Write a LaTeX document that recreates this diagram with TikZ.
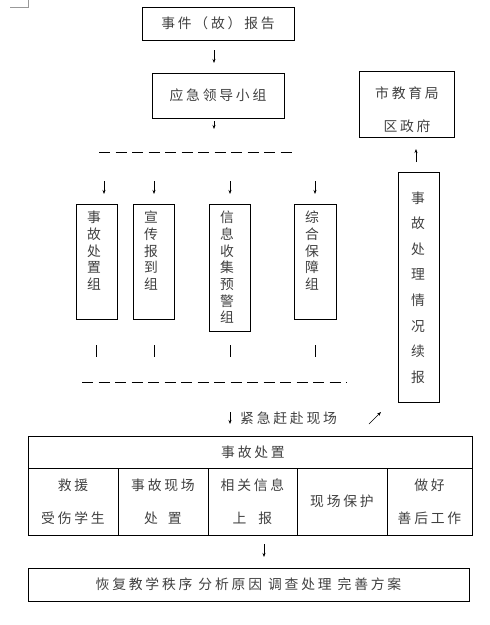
\documentclass[tikz,border=0pt]{standalone}
\usepackage{fontspec}
\setmainfont{Noto Sans CJK SC}
\usetikzlibrary{arrows.meta}
\newlength\chsp \setlength\chsp{2.8pt}
\makeatletter
\newcommand\sptext[1]{\@tfor\tmpch:=#1\do{\tmpch\hspace{\chsp}}\unskip}
\makeatother
\begin{document}
\begin{tikzpicture}[x=1pt,y=-1pt,
  box/.style={draw, line width=0.8pt, inner sep=0pt},
  txt/.style={font=\fontsize{13.8}{16}\selectfont, text=black!75},
  arr/.style={-{Stealth[length=4pt,width=3pt]}, line width=0.6pt},
  dashline/.style={line width=0.8pt, dash pattern=on 11pt off 5.5pt},
  tick/.style={line width=0.7pt},
  vtext/.style={inner sep=0pt, align=center, text=black!75, font=\fontsize{13.8}{16.7}\selectfont},
  cell/.style={draw, line width=0.8pt, inner sep=0pt, align=center, text=black!75, font=\fontsize{13.8}{33}\selectfont}]
\useasboundingbox (0,0) rectangle (490,625);
% corner mark
\draw[black!40, line width=0.5pt] (10,7) -- (28,7) -- (28,0);
% top boxes
\node[box, txt, minimum width=152pt, minimum height=33pt] (report) at (218,23.5) {\sptext{事件（故）报告}};
\node[box, txt, minimum width=132pt, minimum height=45pt] (lead) at (218,95.5) {\sptext{应急领导小组}};
\node[box, minimum width=95pt, minimum height=66pt] (gov) at (406.5,104) {};
\node[txt, inner sep=0pt] (govA) at (407,93) {\sptext{市教育局}};
\node[txt, inner sep=0pt] (govB) at (407,126) {\sptext{区政府}};
% arrows top
\coordinate (a1s) at (214,50); \coordinate (a1e) at (214,63);
\draw[arr, line width=1pt] (a1s) -- (a1e);
\coordinate (a2s) at (214,121); \coordinate (a2e) at (214,129);
\draw[arr] (a2s) -- (a2e);
\coordinate (d1l) at (99,152); \coordinate (d1r) at (296,152);
\draw[dashline] (d1l) -- (d1r);
\coordinate (g1s) at (416,162); \coordinate (g1e) at (416,149);
\draw[arr] (g1s) -- (g1e);
% group arrows
\foreach \x/\n in {104/1,154/2,230/3,315/4}{
  \coordinate (ga\n s) at (\x,181); \coordinate (ga\n e) at (\x,194);
  \draw[arr] (ga\n s) -- (ga\n e);
}
% group boxes
\node[box, minimum width=41pt, minimum height=115pt] (g1) at (96.5,261.5) {};
\node[box, minimum width=41pt, minimum height=115pt] (g2) at (153.5,261.5) {};
\node[box, minimum width=41pt, minimum height=127pt] (g3) at (229.5,267.5) {};
\node[box, minimum width=42pt, minimum height=115pt] (g4) at (315,261.5) {};
\node[vtext, anchor=north] (t1) at (94,211) {事\\故\\处\\置\\组};
\node[vtext, anchor=north] (t2) at (151,211) {宣\\传\\报\\到\\组};
\node[vtext, anchor=north] (t3) at (227,211) {信\\息\\收\\集\\预\\警\\组};
\node[vtext, anchor=north] (t4) at (312,211) {综\\合\\保\\障\\组};
% ticks
\foreach \x/\n in {96/1,154/2,230/3,315/4}{
  \coordinate (tk\n s) at (\x,345); \coordinate (tk\n e) at (\x,357);
  \draw[tick] (tk\n s) -- (tk\n e);
}
\coordinate (d2l) at (82,382); \coordinate (d2r) at (347,382);
\draw[dashline] (d2l) -- (d2r);
% right report box
\node[box, minimum width=41pt, minimum height=230pt] (cont) at (418.5,287) {};
\node[vtext, font=\fontsize{13.8}{25.6}\selectfont] (contt) at (418,287.5) {事\\故\\处\\理\\情\\况\\续\\报};
% rush arrow
\coordinate (r1s) at (230,412); \coordinate (r1e) at (230,424);
\draw[arr] (r1s) -- (r1e);
\node[txt, inner sep=0pt, anchor=west] (rush) at (240,418) {\sptext{紧急赶赴现场}};
\coordinate (dgs) at (369,424); \coordinate (dge) at (381,412);
\draw[arr] (dgs) -- (dge);
% table
\node[cell, minimum width=444pt, minimum height=32pt] (head) at (250,452) {};
\node[txt, inner sep=0pt] (headt) at (253,452) {\sptext{事故处置}};
\node[cell, minimum width=90pt, minimum height=67pt] (c1) at (73,501.5) {\sptext{救援}\\\sptext{受伤学生}};
\node[cell, minimum width=90pt, minimum height=67pt] (c2) at (163,501.5) {\sptext{事故现场}\\处\hspace{10pt}置};
\node[cell, minimum width=89pt, minimum height=67pt] (c3) at (252.5,501.5) {\sptext{相关信息}\\上\hspace{12pt}报};
\node[cell, minimum width=90pt, minimum height=67pt] (c4) at (342,501.5) {\sptext{现场保护}};
\node[cell, minimum width=85pt, minimum height=67pt] (c5) at (429.5,501.5) {\sptext{做好}\\\sptext{善后工作}};
\coordinate (a3s) at (264,544); \coordinate (a3e) at (264,557);
\draw[arr] (a3s) -- (a3e);
\node[box, txt, minimum width=441pt, minimum height=33pt] (final) at (248.5,584.5) {\sptext{恢复教学秩序}\hspace{6pt}\sptext{分析原因}\hspace{6pt}\sptext{调查处理}\hspace{6pt}\sptext{完善方案}};
\end{tikzpicture}
\end{document}
